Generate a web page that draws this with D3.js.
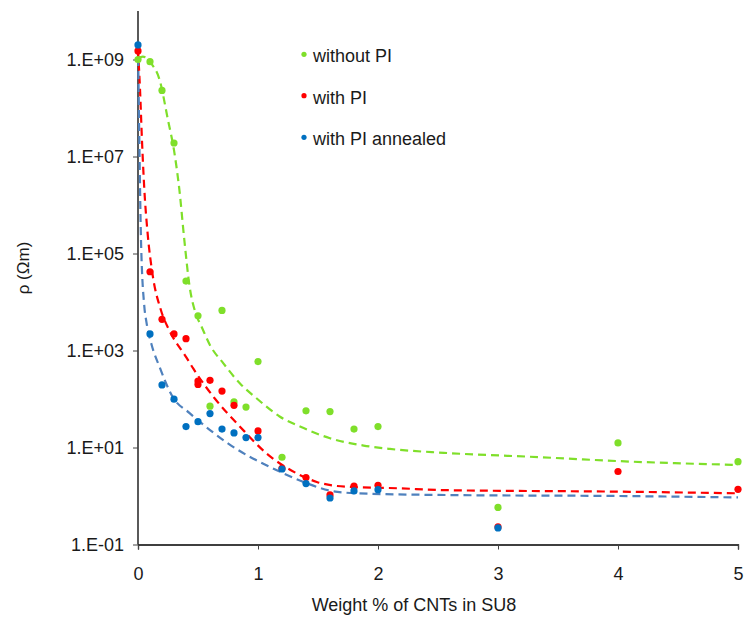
<!DOCTYPE html>
<html>
<head>
<meta charset="utf-8">
<script src="https://cdn.jsdelivr.net/npm/d3@7"></script>
<style>
  html, body { margin: 0; padding: 0; background: #fff; }
  svg text { font-family: "Liberation Sans", Arial, sans-serif; fill: #1a1a1a; }
</style>
</head>
<body>
<svg id="chart" width="745" height="631"></svg>
<script>
// Resistivity of SU8 composites versus CNT loading
const seriesNames = ["without PI", "with PI", "with PI annealed"];
const pointColors = ["#7fdf2a", "#ff0000", "#0070c0"];
const lineColors  = ["#7fdf2a", "#ff0000", "#4f81bd"];

// Measured points (weight %, resistivity in Ωm)
const greenX = [0, 0.1, 0.2, 0.3, 0.4, 0.5, 0.6, 0.7, 0.8, 0.9, 1.0, 1.2, 1.4, 1.6, 1.8, 2.0, 3.0, 4.0, 5.0];
const greenY = [1.0e9, 9.0e8, 2.3e8, 1.9e7, 2.7e4, 5.2e3, 71, 6.7e3, 87, 68, 590, 6.3, 57, 55, 24, 27, 0.58, 12.4, 5.1];

const redX = [0, 0.1, 0.2, 0.3, 0.4, 0.5, 0.5, 0.6, 0.7, 0.8, 1.0, 1.2, 1.4, 1.6, 1.8, 2.0, 3.0, 4.0, 5.0];
const redY = [1.5e9, 4.2e4, 4.4e3, 2.2e3, 1.75e3, 200, 235, 243, 146, 74, 22, 3.7, 2.4, 1.05, 1.6, 1.66, 0.23, 3.2, 1.37];

const blueX = [0, 0.1, 0.2, 0.3, 0.4, 0.5, 0.6, 0.7, 0.8, 0.9, 1.0, 1.2, 1.4, 1.6, 1.8, 2.0, 3.0];
const blueY = [2.0e9, 2.2e3, 195, 99, 27, 34, 50, 24, 20, 16, 16, 3.6, 1.8, 0.91, 1.27, 1.35, 0.22];

// Dashed trend curves (weight %, log10 of resistivity)
const greenTrendX = [0, 0.04, 0.11, 0.18, 0.25, 0.30, 0.345, 0.386, 0.43, 0.48, 0.53, 0.6, 0.71, 0.85, 0.99, 1.18, 1.38, 1.6, 1.88, 2.1, 2.55, 3.35, 4.0, 5.0];
const greenTrendLog = [9.02, 9.06, 8.92, 8.58, 7.75, 7.13, 6.31, 5.28, 4.32, 3.77, 3.49, 3.11, 2.74, 2.32, 2.01, 1.64, 1.40, 1.19, 1.04, 0.97, 0.89, 0.80, 0.72, 0.64];

const redTrendX = [0, 0.017, 0.033, 0.053, 0.08, 0.12, 0.19, 0.26, 0.4, 0.46, 0.64, 0.85, 1.07, 1.32, 1.49, 1.74, 2.16, 2.57, 4.0, 5.0];
const redTrendLog = [9.2, 8.37, 7.34, 6.31, 5.42, 4.59, 3.84, 3.42, 2.87, 2.63, 2.01, 1.43, 0.88, 0.47, 0.29, 0.19, 0.16, 0.12, 0.09, 0.056];

const blueTrendX = [0, 0.011, 0.025, 0.053, 0.07, 0.11, 0.18, 0.29, 0.43, 0.6, 0.77, 0.93, 1.04, 1.21, 1.41, 1.6, 1.82, 2.57, 4.0, 5.0];
const blueTrendLog = [9.30, 7.34, 5.28, 3.90, 3.59, 3.15, 2.66, 2.04, 1.71, 1.36, 1.05, 0.81, 0.67, 0.47, 0.26, 0.11, 0.056, 0.02, 0.0, -0.03];

const xTicks = [0, 1, 2, 3, 4, 5];
const yTicks = [1e-1, 1e1, 1e3, 1e5, 1e7, 1e9];
const yTickLabels = ["1.E-01", "1.E+01", "1.E+03", "1.E+05", "1.E+07", "1.E+09"];

const svg = d3.select("#chart");
const plotLeft = 138, plotRight = 738, plotTop = 11, plotBottom = 544.5;

const x = d3.scaleLinear().domain([0, 5]).range([plotLeft, plotRight]);
const y = d3.scaleLog().domain([1e-1, 1e10]).range([plotBottom, plotTop]);

const fontStack = "'Liberation Sans', Arial, sans-serif";

// Axes
const xAxis = d3.axisBottom(x).tickValues(xTicks).tickSize(5).tickPadding(18).tickFormat(d3.format("d"));
const gx = svg.append("g").attr("transform", `translate(0,${plotBottom})`).call(xAxis);
gx.select(".domain").attr("stroke", "#000").attr("stroke-width", 1.3);
gx.selectAll(".tick line").attr("stroke", "#444");
gx.selectAll("text").attr("font-size", 18).attr("fill", "#1a1a1a").style("font-family", fontStack);

const yAxis = d3.axisLeft(y).tickValues(yTicks).tickSize(5).tickPadding(9)
  .tickFormat((d, i) => yTickLabels[i]);
const gy = svg.append("g").attr("transform", `translate(${plotLeft},0)`).call(yAxis);
gy.select(".domain").attr("stroke", "#000").attr("stroke-width", 1.3).attr("d", `M0,${plotBottom}V${plotTop}`);
gy.selectAll(".tick line").attr("stroke", "#444");
gy.selectAll("text").attr("font-size", 18).attr("fill", "#1a1a1a").style("font-family", fontStack);

// Axis titles
svg.append("text").attr("x", 414).attr("y", 611).attr("text-anchor", "middle")
  .attr("font-size", 18).text("Weight % of CNTs in SU8");
svg.append("text").attr("transform", `translate(29,268) rotate(-90)`).attr("text-anchor", "middle")
  .attr("font-size", 17).text("ρ (Ωm)");

// Trend curves
const trends = [
  [greenTrendX, greenTrendLog],
  [redTrendX, redTrendLog],
  [blueTrendX, blueTrendLog]
];
const line = d3.line().curve(d3.curveMonotoneX).x(d => x(d[0])).y(d => y(Math.pow(10, d[1])));
trends.forEach((t, i) => {
  const pts = t[0].map((v, j) => [v, t[1][j]]);
  svg.append("path").datum(pts).attr("d", line)
    .attr("fill", "none").attr("stroke", lineColors[i]).attr("stroke-width", 2.2)
    .attr("stroke-dasharray", "8,5");
});

// Data points
const points = [[greenX, greenY], [redX, redY], [blueX, blueY]];
points.forEach((p, i) => {
  svg.append("g").selectAll("circle").data(p[0].map((v, j) => [v, p[1][j]])).join("circle")
    .attr("cx", d => x(d[0])).attr("cy", d => y(d[1])).attr("r", 3.6)
    .attr("fill", pointColors[i]);
});

// Legend
const legendY = [54.3, 95.7, 137.3];
seriesNames.forEach((name, i) => {
  svg.append("circle").attr("cx", 304).attr("cy", legendY[i]).attr("r", 2.6).attr("fill", pointColors[i]);
  svg.append("text").attr("x", 313).attr("y", legendY[i] + 8).attr("font-size", 18).text(name);
});
</script>
</body>
</html>
